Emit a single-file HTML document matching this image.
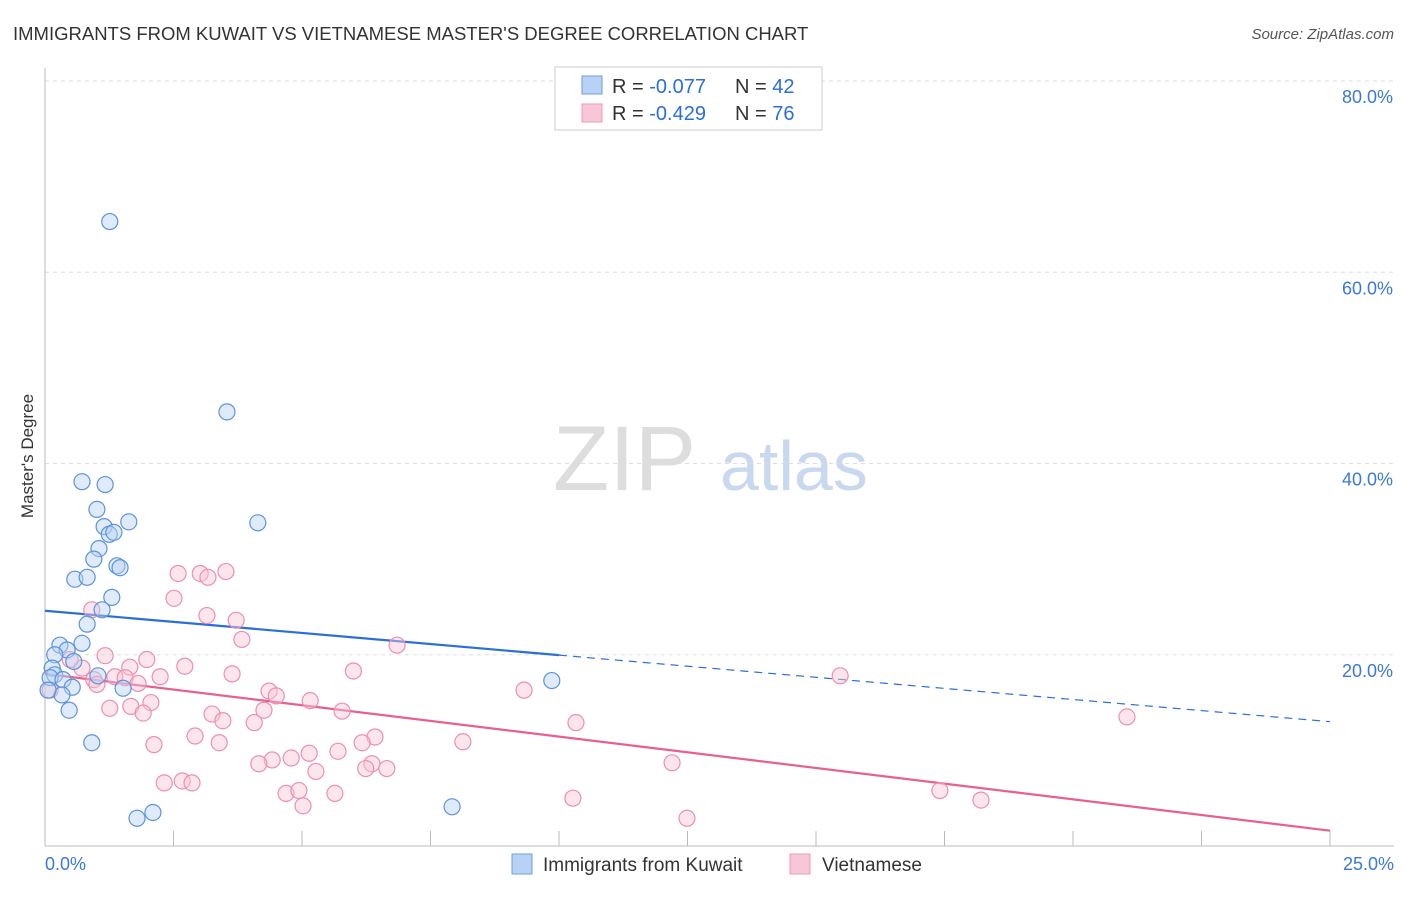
<!DOCTYPE html>
<html><head><meta charset="utf-8"><style>
body{margin:0;background:#fff;font-family:"Liberation Sans",sans-serif;}
svg text{font-family:"Liberation Sans",sans-serif;}
</style></head><body>
<svg width="1406" height="892" xmlns="http://www.w3.org/2000/svg" id="chart">
<text x="13" y="40" font-size="18.5" fill="#333">IMMIGRANTS FROM KUWAIT VS VIETNAMESE MASTER'S DEGREE CORRELATION CHART</text>
<text x="1394" y="39" font-size="15" fill="#555" text-anchor="end" font-style="italic">Source: ZipAtlas.com</text>
<text transform="translate(33,456) rotate(-90)" font-size="17" fill="#333" text-anchor="middle">Master's Degree</text>
<g><text x="553" y="490" font-size="92" fill="#ddd" font-family="Liberation Serif">ZIP</text><text x="720" y="490" font-size="70" fill="#c8d8ee">atlas</text></g>
<g id="grid"></g><g id="axes"></g><g id="lines"></g><g id="pts"></g>
<g>
<rect x="555" y="67" width="267" height="63" fill="#fff" stroke="#ccc"/>
<rect x="582" y="76" width="20" height="18" fill="#b8d2f5" stroke="#6d9fe0"/>
<rect x="582" y="104" width="20" height="18" fill="#f9c6d5" stroke="#ee9ab6"/>
<text x="612" y="93" font-size="20" fill="#333">R = <tspan fill="#2b6fd6">-0.077</tspan></text>
<text x="735" y="93" font-size="20" fill="#333">N = <tspan fill="#2b6fd6">42</tspan></text>
<text x="612" y="120" font-size="20" fill="#333">R = <tspan fill="#2b6fd6">-0.429</tspan></text>
<text x="735" y="120" font-size="20" fill="#333">N = <tspan fill="#2b6fd6">76</tspan></text>
</g>
<g>
<rect x="512" y="854" width="20" height="20" fill="#b8d2f5" stroke="#6d9fe0"/>
<text x="543" y="871" font-size="19" fill="#333">Immigrants from Kuwait</text>
<rect x="790" y="854" width="20" height="20" fill="#f9c6d5" stroke="#ee9ab6"/>
<text x="822" y="871" font-size="19" fill="#333">Vietnamese</text>
</g>
</svg>
<script>
const xTicks=[0,2.5,5,7.5,10,12.5,15,17.5,20,22.5,25];
const yTicks=[20,40,60,80];
const yTickLabels=["20.0%","40.0%","60.0%","80.0%"];
const xEndLabels=["0.0%","25.0%"];
const blueX=[1.26,3.54,0.72,1.17,1.01,4.14,1.63,1.15,1.25,1.34,1.05,0.95,1.40,1.46,0.58,0.82,1.30,1.11,0.82,0.29,0.72,0.43,0.19,0.56,0.14,0.19,0.10,0.35,1.03,0.53,1.52,0.33,0.47,0.91,9.86,7.92,1.79,2.10,0.06];
const blueY=[65.3,45.4,38.1,37.8,35.2,33.8,33.9,33.4,32.6,32.8,31.1,30.0,29.3,29.1,27.9,28.1,26.0,24.7,23.2,21.0,21.2,20.5,20.0,19.3,18.6,17.9,17.6,17.4,17.8,16.6,16.5,15.8,14.2,10.8,17.3,4.1,2.9,3.5,16.3];
const pinkX=[0.1,3.02,2.59,3.17,3.52,2.51,0.91,3.15,3.72,3.83,6.85,1.17,1.98,2.72,1.65,0.72,0.49,6.0,3.64,2.24,15.47,1.36,1.56,0.95,1.81,1.01,4.36,4.5,9.32,5.16,2.06,1.26,1.67,1.91,4.26,5.78,3.25,3.46,4.07,10.33,21.05,2.92,6.42,6.17,3.39,2.12,8.13,5.70,5.14,4.79,4.42,4.16,6.36,5.27,6.24,6.65,12.2,2.32,2.67,2.86,4.69,4.94,5.64,5.02,10.27,17.41,18.21,12.49];
const pinkY=[16.3,28.5,28.5,28.1,28.7,25.9,24.7,24.1,23.6,21.6,21.0,19.9,19.5,18.8,18.7,18.6,19.5,18.3,18.0,17.7,17.8,17.7,17.6,17.4,17.0,16.9,16.2,15.7,16.3,15.2,15.0,14.4,14.6,13.9,14.2,14.1,13.8,13.1,12.9,12.9,13.5,11.5,11.4,10.8,10.8,10.6,10.9,9.9,9.7,9.2,9.0,8.6,8.6,7.8,8.1,8.1,8.7,6.6,6.8,6.6,5.5,5.8,5.5,4.2,5.0,5.8,4.8,2.9];
const blueTrend=[24.6,13.0];
const pinkTrend=[18.0,1.6];
const blueSolidEnd=10;
const NS="http://www.w3.org/2000/svg";
const X=v=>45+v/25*1285, Y=v=>846-v*9.5625;
function mk(t,a,p){const e=document.createElementNS(NS,t);for(const k in a)e.setAttribute(k,a[k]);document.getElementById(p).appendChild(e);return e;}
yTicks.forEach((t,i)=>{
 const g=mk('line',{x1:45,x2:1394,y1:Y(t),y2:Y(t),stroke:'#ddd','stroke-dasharray':'4,4'},'grid');
 
 
 const tx=mk('text',{x:1393,y:Y(t)+22,'font-size':18,fill:'#3b78d8','text-anchor':'end'},'axes');tx.textContent=yTickLabels[i];
 
 
});
const ax=mk('line',{x1:45,x2:45,y1:68,y2:846,stroke:'#bbb'},'axes');


const bx=mk('line',{x1:45,x2:1394,y1:846,y2:846,stroke:'#bbb'},'axes');


xTicks.forEach(t=>{const l=mk('line',{x1:X(t),x2:X(t),y1:831,y2:846,stroke:'#bbb'},'axes');
 
 });
[[0,'start',45],[1,'end',1394]].forEach(([i,a,x])=>{const t=mk('text',{x:x,y:870,'font-size':18,fill:'#3b78d8','text-anchor':a},'axes');t.textContent=xEndLabels[i];
 
 });
function pts(xs,ys,fill,stroke,name){xs.forEach((x,i)=>{const c=mk('circle',{cx:X(x),cy:Y(ys[i]),r:8,fill:fill,stroke:stroke,'stroke-width':1.2,'fill-opacity':0.45},'pts');
 
 });}
pts(pinkX,pinkY,'#f9c6d5','#ec8fae','vietnamese-point');
pts(blueX,blueY,'#b8d2f5','#5b93dc','kuwait-point');
const ty=(tr,x)=>tr[0]+(tr[1]-tr[0])*x/25;
let l1=mk('line',{x1:X(0),y1:Y(ty(blueTrend,0)),x2:X(blueSolidEnd),y2:Y(ty(blueTrend,blueSolidEnd)),stroke:'#2b6fd6','stroke-width':2.2},'lines');


let l2=mk('line',{x1:X(blueSolidEnd),y1:Y(ty(blueTrend,blueSolidEnd)),x2:X(25),y2:Y(ty(blueTrend,25)),stroke:'#2b6fd6','stroke-width':1.2,'stroke-dasharray':'8,6'},'lines');


let l3=mk('line',{x1:X(0),y1:Y(ty(pinkTrend,0)),x2:X(25),y2:Y(ty(pinkTrend,25)),stroke:'#e8608f','stroke-width':2.2},'lines');


</script>
</body></html>
